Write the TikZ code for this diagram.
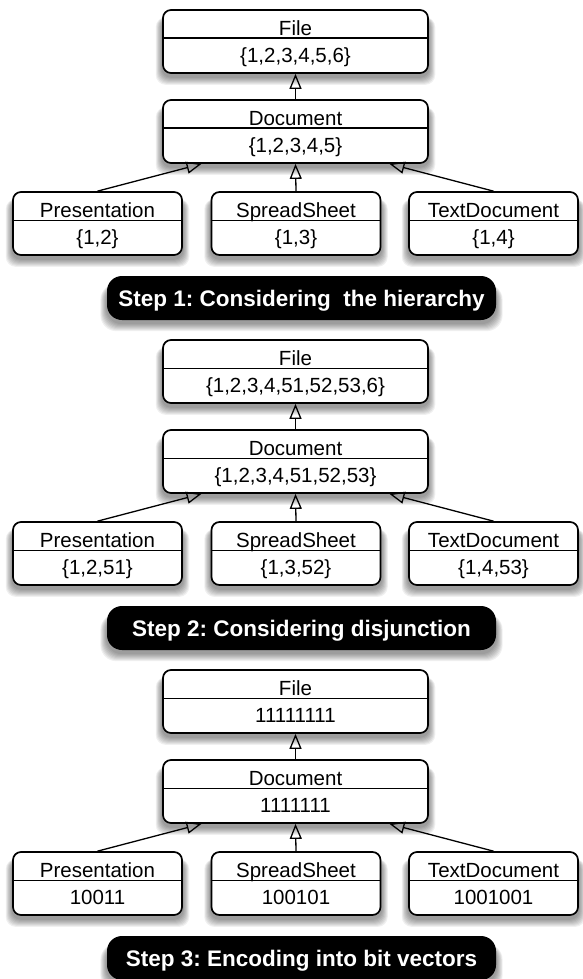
\documentclass[tikz,border=0pt]{standalone}
\usepackage{fontspec}
\setmainfont{Liberation Sans}
\usetikzlibrary{arrows.meta,calc,backgrounds}
\frenchspacing

\tikzset{
  cls/.style={draw, line width=1.7pt, rounded corners=8pt, fill=white, inner sep=0pt, minimum height=63pt},
  widebox/.style={cls, minimum width=265pt},
  narrowbox/.style={cls, minimum width=169pt},
  ctext/.style={anchor=base, inner sep=0pt, font=\fontsize{20.5}{24}\selectfont},
  divider/.style={line width=1.3pt},
  inh/.style={line width=1.3pt, -{Triangle[open, length=15pt, width=12pt, line width=1.3pt]}},
  steplabel/.style={fill=black, rounded corners=15pt, minimum width=389pt, minimum height=44pt,
    text=white, font=\bfseries\fontsize{22.5}{26}\selectfont, inner sep=0pt, text height=20pt, text depth=4pt},
  shadowlayer/.style={black, opacity=0.06},
}

\newcommand\umlbox[5]{%
  \node[#2] (#1) at (#3) {};
  \draw[divider] ($(#1.north west)+(0,29)$) -- ($(#1.north east)+(0,29)$);
  \node[ctext] (#1n) at ($(#1.north)+(0,26)$) {#4};
  \node[ctext] (#1v) at ($(#1.south)+(0,-11)$) {#5};
  \begin{scope}[on background layer]
    \foreach \i in {1,...,8}
      \fill[shadowlayer, rounded corners=10pt] ($(#1.south west)+(-0.8*\i,3+\i)$) rectangle ($(#1.north east)+(0.8*\i,8)$);
  \end{scope}
}
\newcommand\steplab[3]{%
  \node[steplabel] (#1) at (#2) {#3};
  \begin{scope}[on background layer]
    \foreach \i in {1,...,8}
      \fill[shadowlayer, rounded corners=16pt] ($(#1.south west)+(-0.8*\i,3+\i)$) rectangle ($(#1.north east)+(0.8*\i,8)$);
  \end{scope}
}

\begin{document}
\begin{tikzpicture}[x=1pt, y=-1pt]
\useasboundingbox (0,0) rectangle (582,979);

% ---------- Step 1 ----------
\umlbox{fileA}{widebox}{295.5,41.5}{File}{\{1,2,3,4,5,6\}}
\umlbox{docA}{widebox}{295.5,131.5}{Document}{\{1,2,3,4,5\}}
\umlbox{presA}{narrowbox}{97.5,223.5}{Presentation}{\{1,2\}}
\umlbox{sprA}{narrowbox}{296,223.5}{SpreadSheet}{\{1,3\}}
\umlbox{txtA}{narrowbox}{493.5,223.5}{TextDocument}{\{1,4\}}
\draw[inh] (docA.north) -- (fileA.south);
\draw[inh] (presA.north) -- (docA.199);
\draw[inh] (sprA.north) -- (docA.south);
\draw[inh] (txtA.north) -- (docA.341);
\steplab{labA}{301.5,298}{Step 1: Considering\ \ the hierarchy}

% ---------- Step 2 ----------
\umlbox{fileB}{widebox}{295.5,371.5}{File}{\{1,2,3,4,51,52,53,6\}}
\umlbox{docB}{widebox}{295.5,461.5}{Document}{\{1,2,3,4,51,52,53\}}
\umlbox{presB}{narrowbox}{97.5,553.5}{Presentation}{\{1,2,51\}}
\umlbox{sprB}{narrowbox}{296,553.5}{SpreadSheet}{\{1,3,52\}}
\umlbox{txtB}{narrowbox}{493.5,553.5}{TextDocument}{\{1,4,53\}}
\draw[inh] (docB.north) -- (fileB.south);
\draw[inh] (presB.north) -- (docB.199);
\draw[inh] (sprB.north) -- (docB.south);
\draw[inh] (txtB.north) -- (docB.341);
\steplab{labB}{301.5,628}{Step 2: Considering disjunction}

% ---------- Step 3 ----------
\umlbox{fileC}{widebox}{295.5,701.5}{File}{11111111}
\umlbox{docC}{widebox}{295.5,791.5}{Document}{1111111}
\umlbox{presC}{narrowbox}{97.5,883.5}{Presentation}{10011}
\umlbox{sprC}{narrowbox}{296,883.5}{SpreadSheet}{100101}
\umlbox{txtC}{narrowbox}{493.5,883.5}{TextDocument}{1001001}
\draw[inh] (docC.north) -- (fileC.south);
\draw[inh] (presC.north) -- (docC.199);
\draw[inh] (sprC.north) -- (docC.south);
\draw[inh] (txtC.north) -- (docC.341);
\steplab{labC}{301.5,958}{Step 3: Encoding into bit vectors}
\end{tikzpicture}
\end{document}
